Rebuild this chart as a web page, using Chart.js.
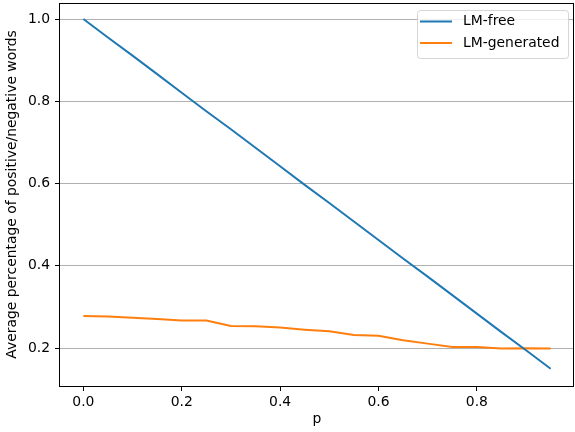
<!DOCTYPE html>
<html lang="en">
<head>
    <meta charset="UTF-8">
    <title>LM-free vs LM-generated</title>
    <style>
        html, body { margin: 0; padding: 0; background: #fff; overflow: hidden; }
        #wrap { width: 575px; height: 432px; }
    </style>
</head>
<body>
    <div id="wrap"><canvas id="chart" width="575" height="432"></canvas></div>

    <script src="https://cdn.jsdelivr.net/npm/chart.js"></script>
    <script>
        // values
        var pValues = [0, 0.05, 0.1, 0.15, 0.2, 0.25, 0.3, 0.35, 0.4, 0.45,
                       0.5, 0.55, 0.6, 0.65, 0.7, 0.75, 0.8, 0.85, 0.9, 0.95];
        var lmFree = [1.0, 0.955, 0.911, 0.866, 0.821, 0.776, 0.732, 0.687, 0.642, 0.597,
                      0.553, 0.508, 0.463, 0.418, 0.374, 0.329, 0.284, 0.239, 0.195, 0.150];
        var lmGenerated = [0.278, 0.277, 0.274, 0.271, 0.267, 0.267, 0.254, 0.253, 0.250, 0.245,
                           0.241, 0.232, 0.230, 0.219, 0.211, 0.203, 0.203, 0.199, 0.200, 0.199];
        var xTicks = [0, 0.2, 0.4, 0.6, 0.8];
        var yTicks = [0.2, 0.4, 0.6, 0.8, 1.0];
        var seriesNames = ['LM-free', 'LM-generated'];
        var seriesColors = ['#1f77b4', '#ff7f0e'];

        var FONT = { family: 'DejaVu Sans', size: 13.9 };

        function toPoints(ys) {
            return pValues.map(function (p, i) { return { x: p, y: ys[i] }; });
        }

        // no extra room for the end labels, the plot area is fixed
        function noPadding(axis) {
            axis.paddingTop = 0;
            axis.paddingBottom = 0;
            axis.paddingLeft = 0;
            axis.paddingRight = 0;
        }

        // box around the plot area, like matplotlib spines
        var frame = {
            id: 'frame',
            afterDraw: function (chart) {
                var a = chart.chartArea, c = chart.ctx;
                c.save();
                c.strokeStyle = '#000';
                c.lineWidth = 1;
                c.strokeRect(Math.round(a.left) - 0.5, Math.round(a.top) + 0.5,
                             Math.round(a.right - a.left), Math.round(a.bottom - a.top));
                c.restore();
            }
        };

        // legend inside the upper right corner
        var innerLegend = {
            id: 'innerLegend',
            afterDraw: function (chart) {
                var a = chart.chartArea, c = chart.ctx;
                var w = 151, h = 48;
                var x = a.right - 6 - w, y = a.top + 7;
                c.save();
                c.fillStyle = 'rgba(255,255,255,0.8)';
                c.strokeStyle = 'rgba(204,204,204,0.8)';
                c.lineWidth = 1;
                c.beginPath();
                c.roundRect(Math.round(x) + 0.5, Math.round(y) + 0.5, w, h, 3);
                c.fill();
                c.stroke();
                c.font = FONT.size + 'px ' + FONT.family;
                c.textBaseline = 'middle';
                seriesNames.forEach(function (name, i) {
                    var ly = y + 11.5 + i * 21.5;
                    c.strokeStyle = seriesColors[i];
                    c.lineWidth = 2;
                    c.beginPath();
                    c.moveTo(x + 3, ly);
                    c.lineTo(x + 35, ly);
                    c.stroke();
                    c.fillStyle = '#000';
                    c.fillText(name, x + 46, ly);
                });
                c.restore();
            }
        };

        var ctx = document.getElementById('chart').getContext('2d');
        var chart = new Chart(ctx, {
            type: 'line',
            data: {
                datasets: seriesNames.map(function (name, i) {
                    return {
                        label: name,
                        data: toPoints(i === 0 ? lmFree : lmGenerated),
                        borderColor: seriesColors[i],
                        backgroundColor: seriesColors[i],
                        borderWidth: 2,
                        pointRadius: 0,
                        tension: 0,
                        fill: false
                    };
                })
            },
            options: {
                responsive: false,
                animation: false,
                layout: { padding: { top: 3, right: 1, left: 0, bottom: 0 } },
                plugins: {
                    legend: { display: false },
                    tooltip: { enabled: false }
                },
                scales: {
                    x: {
                        type: 'linear',
                        min: -0.0475,
                        max: 0.9975,
                        afterBuildTicks: function (axis) {
                            axis.ticks = xTicks.map(function (v) { return { value: v }; });
                        },
                        afterFit: function (axis) { axis.height = 46; noPadding(axis); },
                        grid: {
                            drawOnChartArea: false,
                            drawTicks: true,
                            tickLength: 5,
                            tickColor: '#000'
                        },
                        border: { display: false },
                        ticks: {
                            color: '#000',
                            font: FONT,
                            padding: 3,
                            maxRotation: 0,
                            callback: function (v) { return v.toFixed(1); }
                        },
                        title: {
                            display: true,
                            text: 'p',
                            color: '#000',
                            font: FONT,
                            padding: { top: 0, bottom: 4 }
                        }
                    },
                    y: {
                        type: 'linear',
                        min: 0.108,
                        max: 1.039,
                        afterBuildTicks: function (axis) {
                            axis.ticks = yTicks.map(function (v) { return { value: v }; });
                        },
                        afterFit: function (axis) { axis.width = 60; noPadding(axis); },
                        grid: {
                            color: '#b0b0b0',
                            lineWidth: 1,
                            drawTicks: true,
                            tickLength: 5,
                            tickColor: '#000'
                        },
                        border: { display: false },
                        ticks: {
                            color: '#000',
                            font: FONT,
                            padding: 5,
                            callback: function (v) { return v.toFixed(1); }
                        },
                        title: {
                            display: true,
                            text: 'Average percentage of positive/negative words',
                            color: '#000',
                            font: FONT,
                            padding: { top: 4, bottom: 0 }
                        }
                    }
                }
            },
            plugins: [frame, innerLegend]
        });
    </script>
</body>
</html>
